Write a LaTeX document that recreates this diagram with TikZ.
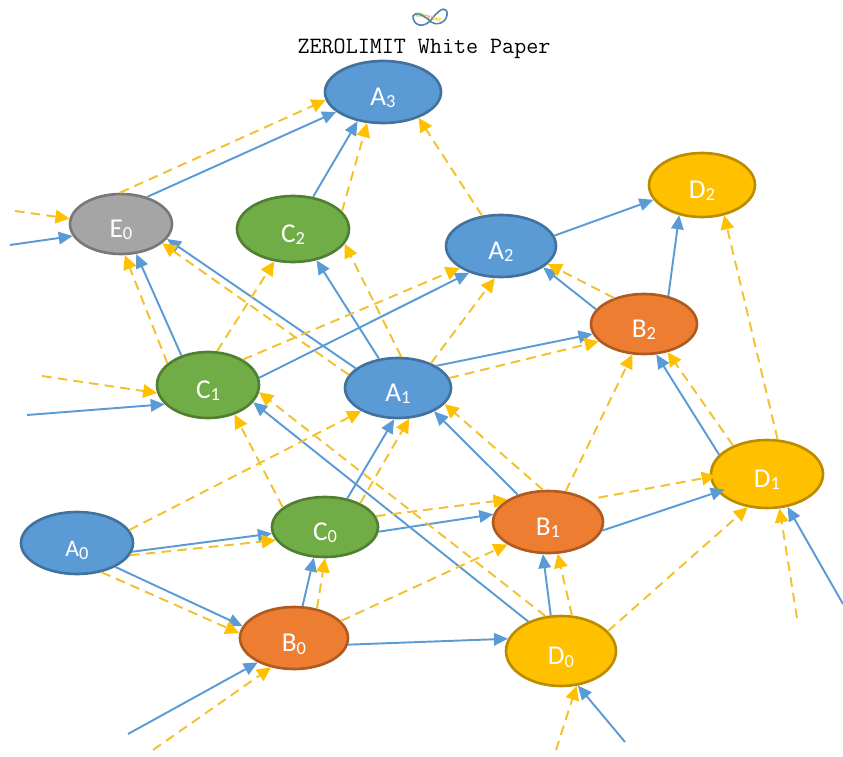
\documentclass[tikz,border=0pt]{standalone}
\usepackage{fontspec}
\usepackage{xcolor}
\setmainfont{Carlito}
\usetikzlibrary{shapes.geometric,arrows.meta}
\definecolor{bluefill}{HTML}{5B9BD5}
\definecolor{blueline}{HTML}{41719C}
\definecolor{orangefill}{HTML}{ED7D31}
\definecolor{orangeline}{HTML}{AE5A21}
\definecolor{greenfill}{HTML}{70AD47}
\definecolor{greenline}{HTML}{507E32}
\definecolor{goldfill}{HTML}{FFC000}
\definecolor{goldline}{HTML}{BC8C00}
\definecolor{greyfill}{HTML}{A5A5A5}
\definecolor{greyline}{HTML}{787878}
\definecolor{dashgold}{HTML}{F2C12E}
\newcommand{\nm}[2]{\smash{\raisebox{-7.6pt}{#1\raisebox{-1.5pt}{\fontsize{10.5}{12}\selectfont #2}}}}
\tikzset{
  state/.style={ellipse,draw,line width=1.5pt,inner sep=0pt,text=white,font=\fontsize{15.5}{17}\selectfont},
  bluestate/.style={state,fill=bluefill,draw=blueline},
  orangestate/.style={state,fill=orangefill,draw=orangeline},
  greenstate/.style={state,fill=greenfill,draw=greenline},
  goldstate/.style={state,fill=goldfill,draw=goldline},
  greystate/.style={state,fill=greyfill,draw=greyline},
  flow/.style={bluefill,line width=1.1pt,-{Triangle[length=2.8mm,width=2.5mm]}},
  vote/.style={dashgold,line width=1.1pt,dash pattern=on 5.5pt off 3.5pt,-{Triangle[length=2.8mm,width=2.7mm,color=goldfill,fill=goldfill]}}
}
\begin{document}
\begin{tikzpicture}[scale=0.2]
\useasboundingbox (0,0) rectangle (84.3,-75.6);
% logo and title
\draw [bluefill!85!black,line width=0.9pt] (43.2,-1.9) .. controls (44.2,-0.5) and (44.8,-0.8) .. (44.7,-1.5) .. controls (44.6,-2.3) and (43.6,-2.6) .. (43.1,-2.2) .. controls (42.4,-1.5) and (41.5,-1.1) .. (41.3,-1.6) .. controls (41.3,-2.6) and (42.4,-2.9) .. (43.2,-1.9);
\node (logotext) [font=\fontsize{3.2}{4}\selectfont\bfseries,rotate=-14,inner sep=0pt] at (42.9,-1.75) {\textcolor{greenfill}{ZER}\textcolor{orangefill}{OLI}\textcolor{goldfill}{MIT}};
\node (title) [inner sep=0pt,font=\fontsize{13.3}{15}\selectfont\ttfamily] at (42.4,-4.85) {ZEROLIMIT White Paper};
% states
\node (A3) [bluestate,minimum width=2.32cm,minimum height=1.24cm] at (38.3,-9.2) {\nm{A}{3}};
\node (E0) [greystate,minimum width=2.04cm,minimum height=1.2cm] at (12.1,-22.4) {\nm{E}{0}};
\node (C2) [greenstate,minimum width=2.24cm,minimum height=1.32cm] at (29.3,-22.9) {\nm{C}{2}};
\node (A2) [bluestate,minimum width=2.2cm,minimum height=1.24cm] at (50.1,-24.6) {\nm{A}{2}};
\node (D2) [goldstate,minimum width=2.12cm,minimum height=1.28cm] at (70.2,-18.5) {\nm{D}{2}};
\node (B2) [orangestate,minimum width=2.12cm,minimum height=1.2cm] at (64.4,-32.4) {\nm{B}{2}};
\node (C1) [greenstate,minimum width=2.04cm,minimum height=1.32cm] at (20.8,-38.5) {\nm{C}{1}};
\node (A1) [bluestate,minimum width=2.12cm,minimum height=1.2cm] at (39.8,-38.8) {\nm{A}{1}};
\node (D1) [goldstate,minimum width=2.24cm,minimum height=1.36cm] at (76.7,-47.4) {\nm{D}{1}};
\node (A0) [bluestate,minimum width=2.24cm,minimum height=1.24cm,font=\fontsize{13.5}{15}\selectfont] at (7.7,-54.3) {\nm{A}{0}};
\node (C0) [greenstate,minimum width=2.12cm,minimum height=1.2cm] at (32.5,-52.7) {\nm{C}{0}};
\node (B1) [orangestate,minimum width=2.2cm,minimum height=1.24cm] at (54.8,-52.2) {\nm{B}{1}};
\node (B0) [orangestate,minimum width=2.16cm,minimum height=1.24cm] at (29.4,-63.8) {\nm{B}{0}};
\node (D0) [goldstate,minimum width=2.2cm,minimum height=1.4cm] at (56.1,-65.1) {\nm{D}{0}};
% free ends
\coordinate (inEa) at (1,-24.5);
\coordinate (inEb) at (1.5,-21.1);
\coordinate (inCa) at (2.7,-41.5);
\coordinate (inCb) at (4.2,-37.6);
\coordinate (inBa) at (12.8,-73.4);
\coordinate (inBb) at (15.3,-75);
\coordinate (inDa) at (62.5,-74.2);
\coordinate (inDb) at (55.6,-75);
\coordinate (inFa) at (84.3,-60.4);
\coordinate (inFb) at (79.7,-61.8);
% solid connectors
\foreach \a/\p/\b/\q in {E0/46/A3/203,C2/58/A3/229,A2/11/D2/197,B2/49/D2/233,B2/163/A2/333,
  A1/30/B2/191,A1/123/C2/307,A1/155/E0/342,C1/132/E0/297,C1/8/A2/220,C0/52/A1/263,
  A0/351/C0/187,A0/328/B0/167,B0/75/C0/250,B0/353/D0/167,C0/355/B1/172,B1/138/A1/327,
  D0/106/B1/261,D0/138/C1/339,D1/158/B2/292}
  \draw [flow] (\a.\p) -- (\b.\q);
\draw [flow,shorten >=-1.5mm] (B1.351) -- (D1.200);
\foreach \a/\b/\q in {inEa/E0/194,inCa/C1/204,inBa/B0/214,inDa/D0/296,inFa/D1/302}
  \draw [flow] (\a) -- (\b.\q);
% dashed connectors
\foreach \a/\p/\b/\q in {E0/92/A3/188,C2/20/A3/243,A2/122/A3/324,B2/139/A2/339,D1/73/D2/306,
  D1/140/B2/310,C1/152/E0/277,C1/75/C2/240,C1/36/A2/208,A1/84/C2/344,A1/165/E0/335,
  A1/37/A2/259,A1/11/B2/201,A0/14/A1/212,A0/347/C0/195,A0/310/B0/175,C0/34/A1/290,
  C0/155/C1/312,C0/12/B1/151,B0/52/C0/270,B0/20/B1/209,B1/99/A1/341,B1/60/B2/249,
  D0/73/B1/287,D0/114/C1/352,D0/23/D1/240}
  \draw [vote] (\a.\p) -- (\b.\q);
\draw [vote,shorten <=2mm,shorten >=-1.2mm] (B1.29) -- (D1.183);
\foreach \a/\b/\q in {inEb/E0/174,inCb/C1/189,inBb/B0/232,inDb/D0/294,inFb/D1/290}
  \draw [vote] (\a) -- (\b.\q);
\end{tikzpicture}
\end{document}
